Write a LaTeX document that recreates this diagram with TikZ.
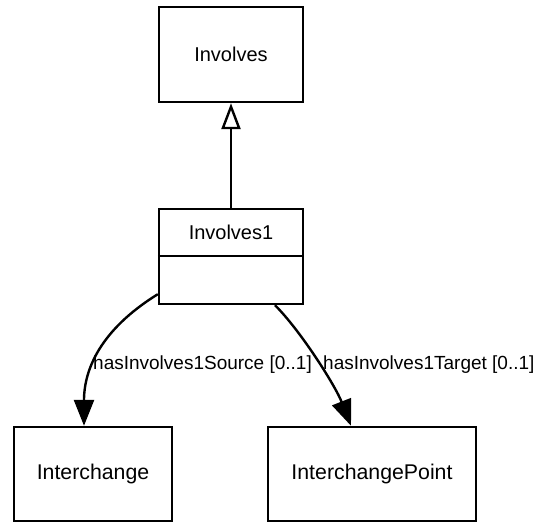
\documentclass[tikz,border=0pt]{standalone}
\usepackage{fontspec}
\setmainfont{Liberation Sans}
\usetikzlibrary{arrows.meta}
\begin{document}
\begin{tikzpicture}[x=1pt,y=-1pt,
  cls/.style={draw=black, line width=2.4pt, rectangle, inner sep=0pt, font=\fontsize{20}{24}\selectfont},
  clsb/.style={cls, font=\fontsize{21.3}{25}\selectfont},
  assoc/.style={line width=2.4pt, -{Triangle[width=20pt,length=26pt]}},
  gen/.style={line width=2.4pt, -{Triangle[open,width=19pt,length=26pt,line width=2.4pt]}},
  lbl/.style={font=\fontsize{19}{22}\selectfont, inner sep=0pt, anchor=west}]
\useasboundingbox[fill=white] (0,0) rectangle (540,522);
\node[cls, minimum width=144pt, minimum height=95pt] (inv) at (231,54.5) {Involves};
\node[cls, minimum width=144pt, minimum height=95pt] (inv1) at (231,256.5) {};
\node[font=\fontsize{20}{24}\selectfont, inner sep=0pt] (inv1t) at (231,232.5) {Involves1};
\draw[line width=2.4pt] (inv1.west |- 0,256) coordinate (dl) -- (inv1.east |- 0,256) coordinate (dr);
\node[clsb, minimum width=158pt, minimum height=94pt] (ic) at (93,474) {Interchange};
\node[clsb, minimum width=208pt, minimum height=94pt] (icp) at (372,474) {InterchangePoint};
\draw[gen] (inv1.north) -- (inv.south);
\coordinate (s1) at ([yshift=11pt]inv1.south west);
\coordinate (e1) at ([xshift=-9pt]ic.north);
\draw[assoc] (s1) .. controls (100,330) and (84,370) .. (e1);
\coordinate (s2) at ([xshift=44pt]inv1.south);
\coordinate (e2) at ([xshift=-21pt]icp.north);
\draw[assoc] (s2) .. controls (300,330) and (335,385) .. (e2);
\node[lbl] (l1) at (93,365) {hasInvolves1Source [0..1]};
\node[lbl] (l2) at (323,365) {hasInvolves1Target [0..1]};
\end{tikzpicture}
\end{document}
